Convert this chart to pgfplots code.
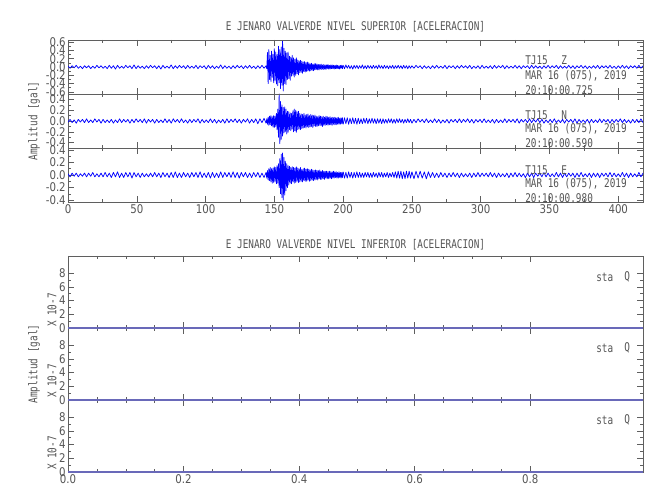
\documentclass[border=0pt]{standalone}
\usepackage{fontspec}
\setmainfont{DejaVu Sans Mono}[FakeStretch=0.78]
\newfontfamily\tickfont{DejaVu Sans}[FakeStretch=0.85]
\usepackage{pgfplots}
\usepackage{pgfplotstable}
\pgfplotsset{compat=1.18}
\definecolor{txt}{RGB}{85,85,85}
\definecolor{axc}{RGB}{95,95,95}
\definecolor{flat}{RGB}{105,105,185}

% Z component
\pgfplotstableread[header=false,row sep=\\]{0.02\\-0.03\\0.03\\-0.02\\0.04\\-0.03\\0.02\\-0.04\\0.03\\-0.02\\0.03\\-0.04\\0.02\\-0.03\\0.04\\-0.02\\0.03\\-0.03\\0.02\\-0.04\\0.04\\-0.03\\0.03\\-0.05\\0.04\\-0.03\\0.02\\-0.03\\0.04\\-0.02\\0.03\\-0.04\\0.05\\-0.04\\0.03\\-0.03\\0.02\\-0.04\\0.03\\-0.03\\0.04\\-0.02\\0.03\\-0.04\\0.03\\-0.05\\0.04\\-0.03\\0.02\\-0.03\\0.05\\-0.04\\0.03\\-0.03\\0.04\\-0.02\\0.03\\-0.04\\0.04\\-0.03\\0.02\\-0.03\\0.04\\-0.04\\0.03\\-0.02\\0.03\\-0.05\\0.04\\-0.03\\0.03\\-0.04\\0.02\\-0.03\\0.05\\-0.04\\0.03\\-0.03\\0.02\\-0.04\\0.03\\-0.03\\0.04\\-0.02\\0.03\\-0.04\\0.03\\-0.03\\0.04\\-0.03\\0.02\\-0.04\\0.03\\-0.03\\0.04\\-0.03\\0.03\\}\ZA
\pgfplotstableread[header=false,row sep=\\]{0.03\\-0.04\\0.35\\-0.40\\0.42\\-0.30\\0.28\\-0.35\\0.38\\-0.25\\0.30\\-0.38\\0.44\\-0.32\\0.36\\-0.41\\0.30\\-0.45\\0.50\\-0.38\\0.42\\-0.52\\0.48\\-0.44\\0.62\\-0.58\\0.45\\-0.40\\0.38\\-0.42\\0.34\\-0.30\\0.36\\-0.28\\0.26\\-0.32\\0.24\\-0.22\\0.28\\-0.20\\0.22\\-0.24\\0.18\\-0.20\\0.22\\-0.16\\0.17\\-0.19\\0.15\\-0.14\\0.16\\-0.13\\0.14\\-0.15\\0.12\\-0.11\\0.13\\-0.12\\0.10\\-0.11\\0.12\\-0.09\\0.10\\-0.10\\0.08\\-0.09\\0.09\\-0.08\\0.07\\-0.09\\0.08\\-0.07\\0.08\\-0.06\\0.07\\-0.07\\0.06\\-0.07\\0.06\\-0.05\\0.07\\-0.06\\0.05\\-0.06\\0.06\\-0.05\\0.05\\-0.06\\0.05\\-0.04\\0.06\\-0.05\\0.04\\-0.05\\0.05\\-0.04\\0.05\\-0.04\\0.04\\-0.05\\0.04\\-0.04\\0.05\\-0.04\\0.04\\-0.04\\0.03\\-0.05\\0.04\\-0.03\\0.04\\-0.04\\0.04\\}\ZB
\pgfplotstableread[header=false,row sep=\\]{0.04\\-0.04\\0.05\\-0.03\\0.04\\-0.04\\0.03\\-0.05\\0.04\\-0.03\\0.04\\-0.04\\0.03\\-0.03\\0.05\\-0.04\\0.03\\-0.04\\0.04\\-0.03\\0.03\\-0.04\\0.04\\-0.03\\0.03\\-0.04\\0.05\\-0.03\\0.03\\-0.04\\0.04\\-0.03\\0.03\\-0.04\\0.03\\-0.03\\0.04\\-0.04\\0.03\\-0.03\\0.04\\-0.03\\0.03\\-0.04\\0.04\\-0.03\\0.03\\-0.04\\0.03\\-0.03\\0.03\\}\ZC
\pgfplotstableread[header=false,row sep=\\]{0.03\\-0.03\\0.04\\-0.02\\0.03\\-0.04\\0.03\\-0.03\\0.02\\-0.04\\0.03\\-0.03\\0.04\\-0.03\\0.02\\-0.03\\0.04\\-0.04\\0.03\\-0.02\\0.03\\-0.04\\0.03\\-0.03\\0.04\\-0.02\\0.03\\-0.03\\0.04\\-0.04\\0.02\\-0.03\\0.03\\-0.04\\0.04\\-0.03\\0.02\\-0.03\\0.03\\-0.04\\0.04\\-0.03\\0.03\\-0.02\\0.04\\-0.04\\0.03\\-0.03\\0.02\\-0.03\\0.04\\-0.03\\0.03\\-0.04\\0.03\\-0.02\\0.03\\-0.04\\0.04\\-0.03\\0.03\\-0.03\\0.02\\-0.04\\0.03\\-0.03\\0.04\\-0.03\\0.03\\-0.02\\0.04\\-0.04\\0.03\\-0.03\\0.02\\-0.03\\0.04\\-0.03\\0.03\\-0.04\\0.03\\-0.02\\0.04\\-0.03\\0.03\\-0.04\\0.02\\-0.03\\0.03\\-0.03\\0.04\\-0.04\\0.03\\-0.02\\0.03\\-0.03\\0.04\\-0.03\\0.02\\-0.04\\0.03\\-0.03\\0.04\\-0.03\\0.03\\-0.04\\0.03\\-0.02\\0.03\\-0.03\\0.04\\-0.03\\0.03\\}\ZD
% N component
\pgfplotstableread[header=false,row sep=\\]{-0.02\\0.03\\-0.03\\0.02\\-0.04\\0.03\\-0.02\\0.03\\-0.03\\0.04\\-0.03\\0.02\\-0.03\\0.04\\-0.02\\0.03\\-0.04\\0.03\\-0.03\\0.02\\-0.03\\0.03\\-0.04\\0.02\\-0.03\\0.04\\-0.03\\0.03\\-0.02\\0.03\\-0.04\\0.03\\-0.03\\0.04\\-0.02\\0.03\\-0.03\\0.04\\-0.04\\0.03\\-0.02\\0.03\\-0.04\\0.03\\-0.03\\0.02\\-0.03\\0.04\\-0.03\\0.03\\-0.04\\0.04\\-0.02\\0.03\\-0.03\\0.04\\-0.03\\0.02\\-0.04\\0.03\\-0.03\\0.03\\-0.02\\0.04\\-0.04\\0.03\\-0.03\\0.02\\-0.03\\0.04\\-0.03\\0.03\\-0.04\\0.02\\-0.03\\0.03\\-0.04\\0.04\\-0.03\\0.03\\-0.02\\0.04\\-0.03\\0.03\\-0.04\\0.03\\-0.02\\0.04\\-0.04\\0.03\\-0.03\\0.04\\-0.05\\0.04\\-0.03\\0.05\\-0.04\\}\NA
\pgfplotstableread[header=false,row sep=\\]{-0.04\\0.04\\-0.06\\0.07\\-0.08\\0.09\\-0.07\\0.10\\-0.09\\0.08\\-0.11\\0.10\\-0.12\\0.09\\-0.10\\0.14\\-0.16\\0.22\\-0.30\\0.50\\-0.42\\0.36\\-0.34\\0.30\\-0.28\\0.25\\-0.22\\0.26\\-0.20\\0.22\\-0.24\\0.18\\-0.21\\0.17\\-0.16\\0.15\\-0.18\\0.14\\-0.15\\0.19\\-0.20\\0.22\\-0.18\\0.20\\-0.21\\0.17\\-0.16\\0.18\\-0.15\\0.14\\-0.16\\0.13\\-0.14\\0.12\\-0.13\\0.14\\-0.12\\0.11\\-0.13\\0.12\\-0.11\\0.13\\-0.12\\0.10\\-0.11\\0.12\\-0.10\\0.11\\-0.12\\0.10\\-0.09\\0.11\\-0.10\\0.09\\-0.10\\0.08\\-0.09\\0.10\\-0.08\\0.09\\-0.09\\0.08\\-0.10\\0.09\\-0.08\\0.07\\-0.08\\0.09\\-0.07\\0.08\\-0.08\\0.07\\-0.07\\0.08\\-0.07\\0.06\\-0.08\\0.07\\-0.06\\0.07\\-0.07\\0.06\\-0.07\\0.06\\-0.06\\0.07\\-0.06\\0.05\\-0.06\\0.06\\-0.05\\0.06\\-0.06\\}\NB
\pgfplotstableread[header=false,row sep=\\]{-0.06\\0.06\\-0.05\\0.06\\-0.06\\0.05\\-0.05\\0.06\\-0.05\\0.05\\-0.06\\0.05\\-0.05\\0.04\\-0.05\\0.05\\-0.04\\0.05\\-0.05\\0.04\\-0.04\\0.05\\-0.04\\0.04\\-0.05\\0.04\\-0.04\\0.04\\-0.05\\0.04\\-0.04\\0.03\\-0.04\\0.04\\-0.03\\0.04\\-0.04\\0.03\\-0.04\\0.04\\-0.03\\0.04\\-0.03\\0.03\\-0.04\\0.03\\-0.03\\0.04\\-0.03\\0.03\\-0.04\\}\NC
\pgfplotstableread[header=false,row sep=\\]{-0.04\\0.03\\-0.03\\0.04\\-0.02\\0.03\\-0.03\\0.04\\-0.03\\0.02\\-0.03\\0.04\\-0.03\\0.03\\-0.04\\0.02\\-0.03\\0.03\\-0.04\\0.03\\-0.02\\0.03\\-0.03\\0.04\\-0.03\\0.03\\-0.02\\0.04\\-0.03\\0.03\\-0.04\\0.03\\-0.02\\0.03\\-0.03\\0.04\\-0.03\\0.02\\-0.03\\0.03\\-0.04\\0.03\\-0.03\\0.02\\-0.03\\0.04\\-0.03\\0.03\\-0.02\\0.03\\-0.03\\0.04\\-0.04\\0.03\\-0.02\\0.03\\-0.03\\0.04\\-0.03\\0.03\\-0.02\\0.04\\-0.03\\0.03\\-0.04\\0.02\\-0.03\\0.03\\-0.03\\0.04\\-0.03\\0.02\\-0.03\\0.03\\-0.04\\0.03\\-0.02\\0.03\\-0.03\\0.04\\-0.04\\0.03\\-0.03\\0.02\\-0.03\\0.03\\-0.04\\0.03\\-0.03\\0.02\\-0.03\\0.04\\-0.03\\0.03\\-0.02\\0.03\\-0.04\\0.03\\-0.03\\0.03\\-0.02\\0.04\\-0.03\\0.03\\-0.03\\0.02\\-0.04\\0.03\\-0.03\\0.03\\-0.03\\0.04\\-0.03\\}\ND
% E component
\pgfplotstableread[header=false,row sep=\\]{0.02\\-0.03\\0.03\\-0.02\\0.03\\-0.03\\0.02\\-0.02\\0.03\\-0.03\\0.03\\-0.02\\0.04\\-0.03\\0.02\\-0.03\\0.03\\-0.03\\0.04\\-0.03\\0.03\\-0.04\\0.04\\-0.03\\0.05\\-0.04\\0.03\\-0.04\\0.04\\-0.03\\0.04\\-0.05\\0.04\\-0.03\\0.03\\-0.04\\0.03\\-0.03\\0.02\\-0.03\\0.03\\-0.03\\0.04\\-0.03\\0.03\\-0.04\\0.04\\-0.03\\0.03\\-0.04\\0.04\\-0.04\\0.05\\-0.04\\0.03\\-0.04\\0.04\\-0.03\\0.03\\-0.04\\0.04\\-0.03\\0.04\\-0.04\\0.05\\-0.04\\0.03\\-0.04\\0.04\\-0.05\\0.04\\-0.04\\0.03\\-0.04\\0.05\\-0.04\\0.04\\-0.03\\0.04\\-0.04\\0.05\\-0.04\\0.04\\-0.05\\0.04\\-0.03\\0.04\\-0.04\\0.03\\-0.04\\0.04\\-0.03\\0.04\\-0.04\\0.03\\-0.04\\0.04\\}\EA
\pgfplotstableread[header=false,row sep=\\]{0.04\\-0.05\\0.07\\-0.08\\0.10\\-0.09\\0.12\\-0.11\\0.10\\-0.13\\0.11\\-0.12\\0.13\\-0.10\\0.12\\-0.14\\0.15\\-0.13\\0.18\\-0.20\\0.26\\-0.30\\0.33\\-0.36\\0.35\\-0.40\\0.28\\-0.32\\0.22\\-0.25\\0.18\\-0.20\\0.15\\-0.16\\0.14\\-0.13\\0.12\\-0.14\\0.13\\-0.11\\0.12\\-0.13\\0.11\\-0.12\\0.13\\-0.10\\0.11\\-0.12\\0.10\\-0.11\\0.12\\-0.10\\0.09\\-0.11\\0.10\\-0.09\\0.11\\-0.10\\0.09\\-0.10\\0.10\\-0.08\\0.09\\-0.10\\0.08\\-0.09\\0.09\\-0.08\\0.08\\-0.09\\0.07\\-0.08\\0.08\\-0.07\\0.07\\-0.08\\0.07\\-0.06\\0.08\\-0.07\\0.06\\-0.07\\0.07\\-0.06\\0.06\\-0.07\\0.06\\-0.05\\0.06\\-0.06\\0.05\\-0.06\\0.06\\-0.05\\0.05\\-0.06\\0.05\\-0.05\\0.06\\-0.05\\0.05\\-0.04\\0.05\\-0.05\\0.04\\-0.05\\0.05\\-0.04\\0.04\\-0.05\\0.04\\-0.04\\0.05\\}\EB
\pgfplotstableread[header=false,row sep=\\]{0.05\\-0.05\\0.04\\-0.05\\0.05\\-0.04\\0.04\\-0.05\\0.04\\-0.04\\0.05\\-0.04\\0.04\\-0.04\\0.03\\-0.04\\0.04\\-0.03\\0.04\\-0.04\\0.03\\-0.04\\0.04\\-0.03\\0.03\\-0.04\\0.04\\-0.03\\0.04\\-0.04\\0.03\\-0.03\\0.04\\-0.04\\0.03\\-0.03\\0.04\\-0.04\\0.05\\-0.05\\0.06\\-0.05\\0.06\\-0.06\\0.05\\-0.06\\0.06\\-0.05\\0.06\\-0.05\\0.05\\}\EC
\pgfplotstableread[header=false,row sep=\\]{0.05\\-0.06\\0.06\\-0.05\\0.06\\-0.05\\0.05\\-0.06\\0.05\\-0.04\\0.04\\-0.04\\0.03\\-0.04\\0.04\\-0.03\\0.03\\-0.04\\0.03\\-0.03\\0.04\\-0.03\\0.03\\-0.04\\0.03\\-0.03\\0.02\\-0.03\\0.03\\-0.04\\0.03\\-0.03\\0.04\\-0.03\\0.03\\-0.02\\0.03\\-0.03\\0.04\\-0.03\\0.03\\-0.04\\0.03\\-0.03\\0.02\\-0.03\\0.03\\-0.04\\0.03\\-0.03\\0.04\\-0.03\\0.03\\-0.03\\0.02\\-0.04\\0.03\\-0.03\\0.03\\-0.04\\0.03\\-0.02\\0.03\\-0.03\\0.04\\-0.03\\0.03\\-0.03\\0.02\\-0.03\\0.04\\-0.03\\0.03\\-0.04\\0.03\\-0.03\\0.03\\-0.02\\0.03\\-0.04\\0.03\\-0.03\\0.04\\-0.03\\0.02\\-0.03\\0.03\\-0.04\\0.03\\-0.03\\0.03\\-0.04\\0.03\\-0.02\\0.03\\-0.03\\0.04\\-0.03\\0.03\\-0.03\\0.02\\-0.03\\0.04\\-0.03\\0.03\\-0.04\\0.03\\-0.03\\0.02\\-0.03\\0.04\\-0.03\\0.03\\}\ED

\pgfplotsset{
  base/.style={scale only axis, width=431.25pt, anchor=north west,
    axis line style={axc, line width=0.5pt}, tick style={axc, line width=0.4pt},
    major tick length=4.5pt, minor tick length=2.5pt, tick align=inside,
    xtick pos=both, ytick pos=both,
    /pgf/number format/assume math mode=true,
    tick label style={font={\fontsize{9}{9}\tickfont}, text=txt},
    yticklabel style={inner xsep=1.5pt},
    xticklabel style={inner ysep=2pt}},
  toppanel/.style={base, height=40.5pt, xmin=0, xmax=418,
    xtick={0,50,...,400}, minor x tick num=1, minor y tick num=1,
    yticklabel style={/pgf/number format/fixed, /pgf/number format/fixed zerofill, /pgf/number format/precision=1}},
  botpanel/.style={base, height=54pt, xmin=0, xmax=0.995, ymin=0, ymax=10.5,
    xtick={0,0.2,0.4,0.6,0.8}, minor x tick num=3,
    ytick={0,2,4,6,8}, minor y tick num=1, clip=false,
    xticklabel style={/pgf/number format/fixed, /pgf/number format/fixed zerofill, /pgf/number format/precision=1}},
  trace/.style={blue, line width=0.55pt, line join=round},
}
\newcommand{\lbl}[4][]{\node[inner sep=0pt, text=txt, font={\fontsize{9}{10}\selectfont}, anchor=west, #1] at ({#2*0.75pt},{375pt-#3*0.75pt}) {#4};}

\begin{document}
\begin{tikzpicture}
\useasboundingbox (0,0) rectangle (487.5pt,375pt);
% ---------- upper group ----------
\begin{axis}[toppanel, at={(51pt,264pt)}, ymin=-0.43, ymax=0.43,
  ytick={-0.4,-0.2,0,0.2,0.4}]
\addplot[trace] table[x expr=\coordindex*1.5, y index=0]{\EA};
\addplot[trace] table[x expr=144+\coordindex*0.5, y index=0]{\EB};
\addplot[trace] table[x expr=200+\coordindex, y index=0]{\EC};
\addplot[trace] table[x expr=250+\coordindex*1.5, y index=0]{\ED};
\end{axis}
\begin{axis}[toppanel, at={(51pt,304.5pt)}, ymin=-0.5, ymax=0.5,
  ytick={-0.4,-0.2,0,0.2,0.4}, xticklabel=\empty]
\addplot[trace] table[x expr=\coordindex*1.5, y index=0]{\NA};
\addplot[trace] table[x expr=144+\coordindex*0.5, y index=0]{\NB};
\addplot[trace] table[x expr=200+\coordindex, y index=0]{\NC};
\addplot[trace] table[x expr=250+\coordindex*1.5, y index=0]{\ND};
\end{axis}
\begin{axis}[toppanel, at={(51pt,345pt)}, ymin=-0.65, ymax=0.65,
  ytick={-0.6,-0.4,-0.2,0,0.2,0.4,0.6}, xticklabel=\empty]
\addplot[trace] table[x expr=\coordindex*1.5, y index=0]{\ZA};
\addplot[trace] table[x expr=144+\coordindex*0.5, y index=0]{\ZB};
\addplot[trace] table[x expr=200+\coordindex, y index=0]{\ZC};
\addplot[trace] table[x expr=250+\coordindex*1.5, y index=0]{\ZD};
\end{axis}
% ---------- lower group (drawn bottom-up so each flat line lies on top) ----------
\begin{axis}[botpanel, at={(51pt,75pt)}]
\addplot[flat, line width=0.8pt] coordinates {(0,0) (0.995,0)};
\end{axis}
\begin{axis}[botpanel, at={(51pt,129pt)}, xticklabel=\empty]
\addplot[flat, line width=0.8pt] coordinates {(0,0) (0.995,0)};
\end{axis}
\begin{axis}[botpanel, at={(51pt,183pt)}, xticklabel=\empty]
\addplot[flat, line width=0.8pt] coordinates {(0,0) (0.995,0)};
\end{axis}
% ---------- texts ----------
\lbl[anchor=center]{355.5}{27}{E JENARO VALVERDE NIVEL SUPERIOR [ACELERACION]}
\lbl[anchor=center]{355.5}{245}{E JENARO VALVERDE NIVEL INFERIOR [ACELERACION]}
\lbl[anchor=center, rotate=90]{34}{121}{Amplitud [gal]}
\lbl[anchor=center, rotate=90]{34}{364}{Amplitud [gal]}
\lbl[anchor=center, rotate=90]{52}{310}{X 10-7}
\lbl[anchor=center, rotate=90]{52}{381}{X 10-7}
\lbl[anchor=center, rotate=90]{52}{453}{X 10-7}
\lbl{525}{60}{TJ15}\lbl{561}{60}{Z}
\lbl{525}{76}{MAR 16 (075), 2019}\lbl{525}{90}{20:10:00.725}
\lbl{525}{115}{TJ15}\lbl{561}{115}{N}
\lbl{525}{129}{MAR 16 (075), 2019}\lbl{525}{143}{20:10:00.590}
\lbl{525}{170}{TJ15}\lbl{561}{170}{E}
\lbl{525}{184}{MAR 16 (075), 2019}\lbl{525}{198}{20:10:00.980}
\lbl{596}{277}{sta}\lbl{624}{277}{Q}
\lbl{596}{348}{sta}\lbl{624}{348}{Q}
\lbl{596}{420}{sta}\lbl{624}{420}{Q}
\end{tikzpicture}
\end{document}
